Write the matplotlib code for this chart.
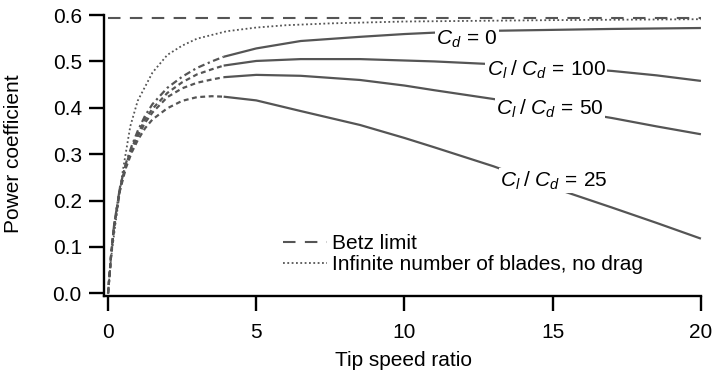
import numpy as np
import matplotlib
matplotlib.use('Agg')
import matplotlib.pyplot as plt

# valeurs
betz_limit = 16 / 27

# rotor idéal, nombre infini de pales, sans traînée
tsr_ideal = [0, 0.1, 0.25, 0.5, 0.75, 1.0, 1.5, 2.0, 2.5, 3.0, 4.0, 5.0, 6.0, 7.5, 10, 15, 20]
cp_ideal = [0, 0.075, 0.15, 0.265, 0.36, 0.415, 0.476, 0.514, 0.534, 0.549, 0.565, 0.573, 0.578, 0.582, 0.586, 0.589, 0.591]

# partie basse (tirets) et partie haute (trait plein) des courbes à 3 pales
tsr_low = [0, 0.1, 0.2, 0.4, 0.6, 0.8, 1.0, 1.25, 1.5, 2.0, 2.5, 3.0, 3.5, 3.9]
tsr_high = [3.9, 5, 6.5, 8.5, 10, 11, 13, 15, 17, 18.5, 20]

cp_cd0_low = [0, 0.08, 0.145, 0.228, 0.28, 0.318, 0.350, 0.383, 0.408, 0.443, 0.467, 0.486, 0.500, 0.510]
cp_cd0_high = [0.510, 0.528, 0.544, 0.553, 0.559, 0.562, 0.566, 0.568, 0.570, 0.571, 0.572]

cp_100_low = [0, 0.08, 0.144, 0.226, 0.277, 0.313, 0.343, 0.375, 0.398, 0.432, 0.455, 0.472, 0.483, 0.491]
cp_100_high = [0.491, 0.501, 0.505, 0.505, 0.502, 0.500, 0.494, 0.488, 0.4795, 0.470, 0.458]

cp_50_low = [0, 0.079, 0.143, 0.224, 0.274, 0.309, 0.338, 0.368, 0.390, 0.423, 0.442, 0.454, 0.461, 0.466]
cp_50_high = [0.466, 0.471, 0.469, 0.460, 0.448, 0.438, 0.419, 0.399, 0.378, 0.360, 0.343]

cp_25_low = [0, 0.078, 0.141, 0.221, 0.270, 0.304, 0.330, 0.356, 0.375, 0.399, 0.415, 0.423, 0.425, 0.424]
cp_25_high = [0.424, 0.416, 0.393, 0.363, 0.335, 0.315, 0.274, 0.228, 0.185, 0.152, 0.118]

curve_labels = [r'$C_d\,=\,0$', r'$C_l\;/\;C_d\,=\,100$', r'$C_l\;/\;C_d\,=\,50$', r'$C_l\;/\;C_d\,=\,25$']
label_x = [12.11, 14.79, 14.9, 15.05]
label_y = [0.535, 0.4685, 0.386, 0.230]

xticks = [0, 5, 10, 15, 20]
yticks = [0.0, 0.1, 0.2, 0.3, 0.4, 0.5, 0.6]

FS = 15

plt.rcParams['font.family'] = ['Liberation Sans', 'DejaVu Sans']
plt.rcParams['mathtext.fontset'] = 'custom'
plt.rcParams['mathtext.rm'] = 'Liberation Sans'
plt.rcParams['mathtext.it'] = 'Liberation Sans:italic'
plt.rcParams['font.size'] = FS

gray = '#555555'
fig = plt.figure(figsize=(7.14, 3.73), dpi=100)
ax = fig.add_axes([0.1457, 0.2072, 0.8443, 0.7774])

ax.plot([0, 20], [betz_limit, betz_limit], color=gray, lw=1.5, dashes=(6, 4.5), label='Betz limit')
ax.plot(tsr_ideal, cp_ideal, color=gray, lw=1.3, linestyle=(0, (1, 1.4)),
        label='Infinite number of blades, no drag')

lows = [cp_cd0_low, cp_100_low, cp_50_low, cp_25_low]
highs = [cp_cd0_high, cp_100_high, cp_50_high, cp_25_high]
low_dashes = [(3, 1.6, 1, 1.6), (2.2, 1.6), (2.2, 1.6), (2.2, 1.6)]
for low, high, d in zip(lows, highs, low_dashes):
    ax.plot(tsr_low, low, color=gray, lw=1.6, dashes=d)
    ax.plot(tsr_high, high, color=gray, lw=1.6, solid_capstyle='butt')

# étiquettes posées sur les courbes (fond blanc pour couper le trait)
for txt, x, y in zip(curve_labels, label_x, label_y):
    ax.text(x, y, txt, ha='center', va='baseline', fontsize=FS,
            bbox=dict(fc='white', ec='none', pad=1.0), zorder=5)

ax.set_xlim(-0.135, 20.2)
ax.set_ylim(-0.005, 0.62)
ax.spines['top'].set_visible(False)
ax.spines['right'].set_visible(False)
ax.spines['left'].set_bounds(-0.005, 0.6)
ax.spines['bottom'].set_bounds(-0.135, 20)
for s in ['left', 'bottom']:
    ax.spines[s].set_linewidth(1.7)
ax.set_xticks(xticks)
ax.set_yticks(yticks)
ax.set_yticklabels([f'{v:.1f}' for v in yticks])
ax.tick_params(direction='out', length=11, width=1.7, labelsize=FS)
ax.tick_params(axis='x', pad=9)
ax.tick_params(axis='y', pad=5)

ax.set_xlabel('Tip speed ratio', fontsize=FS)
ax.set_ylabel('Power coefficient', fontsize=FS)
ax.xaxis.set_label_coords(0.497, -0.19)
ax.yaxis.set_label_coords(-0.135, 0.49)

ax.legend(loc='center left', bbox_to_anchor=(0.3964, 0.319), bbox_transform=fig.transFigure,
          frameon=False, fontsize=FS, handlelength=2.1, handletextpad=0.25,
          borderpad=0, borderaxespad=0, labelspacing=0.1)

fig.savefig('out.png', dpi=100)
